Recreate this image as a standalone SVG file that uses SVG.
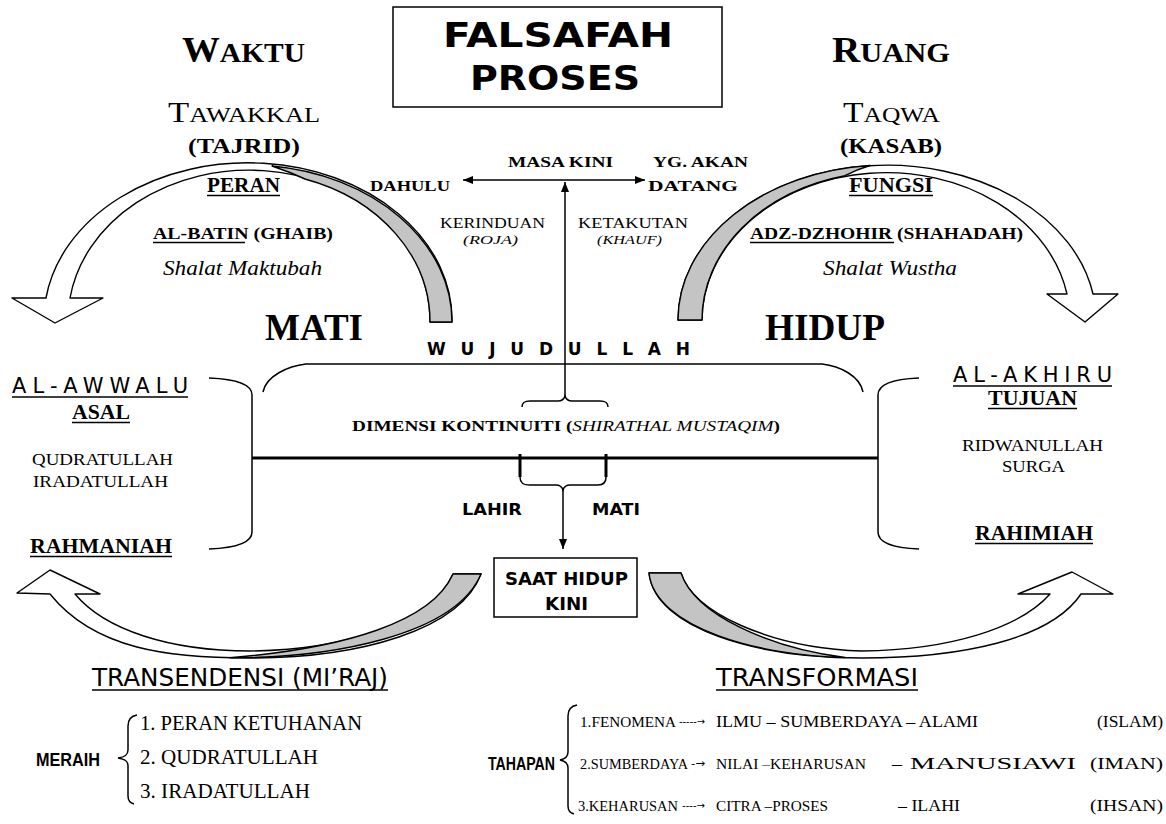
<svg xmlns="http://www.w3.org/2000/svg" width="1166" height="824" viewBox="0 0 1166 824">
  <style>
    text { fill: #000; }
    .s  { font-family: "Liberation Serif", serif; }
    .sb { font-family: "Liberation Serif", serif; font-weight: bold; }
    .si { font-family: "Liberation Serif", serif; font-style: italic; }
    .d  { font-family: "DejaVu Sans", sans-serif; }
    .db { font-family: "DejaVu Sans", sans-serif; font-weight: bold; }
    .lb { font-family: "Liberation Sans", sans-serif; font-weight: bold; }
    .ln { fill: none; stroke: #000; stroke-width: 1.5; }
    .thick { fill: none; stroke: #000; stroke-width: 3; }
    .ul { stroke: #000; stroke-width: 1.5; }
    .band { fill: #fff; stroke: #000; stroke-width: 1.4; stroke-linejoin: round; }
    .shade { fill: #c4c4c4; stroke: #000; stroke-width: 1.4; stroke-linejoin: round; }
    .box { fill: #fff; stroke: #000; stroke-width: 1.5; }
  </style>
  <defs>
    <marker id="head" viewBox="0 0 10 8" refX="10" refY="4" markerWidth="10" markerHeight="8" markerUnits="userSpaceOnUse" orient="auto-start-reverse">
      <path d="M0,0 L10,4 L0,8 Z" fill="#000"/>
    </marker>
  </defs>
  <rect width="1166" height="824" fill="#fff"/>

  <!-- curved 3D arrows -->
  <g id="arrow-waktu">
    <path class="band" d="M12,298 L55,323 L103,298 L70,298 A181,150 0 0 1 430,322 L452,322 A204,157 0 0 0 46,298 Z"/>
    <path class="shade" d="M272,166 A204,157 0 0 1 452,322 L430,322 A181,150 0 0 0 305,179 Q290,172 272,166 Z"/>
  </g>
  <g id="arrow-ruang">
    <path class="band" d="M678,320 A209,155 0 0 1 1093,294 L1118,294 L1085,322 L1047,294 L1067,294 A184,148 0 0 0 702,320 Z"/>
    <path class="shade" d="M678,320 A209,155 0 0 1 870,165.5 Q858,169 845,175.7 A184,148 0 0 0 702,320 Z"/>
  </g>
  <g id="arrow-transendensi">
    <path class="band" d="M17,593 L50,570 L100,594 L75,594 C105,630 170,651 250,651 C340,650 430,625 453,574 L481,574 C460,630 360,658 250,658 C170,658 95,650 50,594 Z"/>
    <path class="shade" d="M230,657.8 C330,658 455,636 481,574 L453,574 C432,622 345,648 230,657.8 Z"/>
  </g>
  <g id="arrow-transformasi">
    <path class="band" d="M649,573 L681,573 C692,612 770,648 862,651 C950,650 1020,628 1050,594 L1018,594 L1072,572 L1113,594 L1081,594 C1050,640 960,658 862,658 C760,658 655,630 649,573 Z"/>
    <path class="shade" d="M649,573 L681,573 C695,615 770,648 845,657.5 C760,656 655,628 649,573 Z"/>
  </g>

  <!-- brackets, timeline and arrows -->
  <g id="connectors">
    <line class="ln" x1="565" y1="180" x2="463" y2="180" marker-end="url(#head)"/>
    <line class="ln" x1="565" y1="180" x2="645" y2="180" marker-end="url(#head)"/>
    <line class="ln" x1="565" y1="397" x2="565" y2="182" marker-end="url(#head)"/>
    <path class="ln" d="M263,392 C266,376 288,366 306,364 L822,364 C840,366 860,376 863,392"/>
    <path class="ln" d="M522,407 C522,402 525,401 530,401 L558,401 C562,401 564,399 565,396 C566,399 568,401 572,401 L600,401 C605,401 608,402 608,407"/>
    <path class="ln" d="M209,378 C235,379 252,384 252,395 L252,532 C252,543 235,548 209,549"/>
    <path class="ln" d="M919,378 C893,379 878,384 878,395 L878,532 C878,543 893,548 919,549"/>
    <line class="thick" x1="252" y1="458" x2="878" y2="458"/>
    <line class="thick" x1="520" y1="454" x2="520" y2="477"/>
    <line class="thick" x1="606" y1="454" x2="606" y2="477"/>
    <path class="ln" d="M520,477 C520,483 523,485 530,485 L556,485 C560,485 562,487 563,490 C564,487 566,485 570,485 L598,485 C603,485 606,483 606,477"/>
    <line class="ln" x1="563" y1="490" x2="563" y2="549" marker-end="url(#head)"/>
    <path class="ln" d="M137,715 C131,716 128,719 128,726 L128,750 C128,755 125,757 118,758 C125,759 128,761 128,766 L128,796 C128,801 130,803 134,804"/>
    <path class="ln" d="M577,705 C571,706 568,709 568,716 L568,752 C568,757 565,759 560,760 C565,761 568,763 568,768 L568,806 C568,811 570,813 574,814"/>
  </g>

  <g id="title">
    <rect class="box" x="393" y="7" width="329" height="100"/>
    <text class="db" x="443" y="47" font-size="34" textLength="230" lengthAdjust="spacingAndGlyphs">FALSAFAH</text>
    <text class="db" x="470" y="90" font-size="34" textLength="170" lengthAdjust="spacingAndGlyphs">PROSES</text>
  </g>

  <g id="waktu">
    <text class="sb" x="182" y="62" textLength="123" lengthAdjust="spacingAndGlyphs"><tspan font-size="36">W</tspan><tspan font-size="28">AKTU</tspan></text>
    <text class="s" x="168" y="122" textLength="152" lengthAdjust="spacingAndGlyphs"><tspan font-size="29">T</tspan><tspan font-size="22">AWAKKAL</tspan></text>
    <text class="sb" x="188" y="153" font-size="22" textLength="112" lengthAdjust="spacingAndGlyphs">(TAJRID)</text>
    <text class="sb" x="207" y="192" font-size="20" textLength="73" lengthAdjust="spacingAndGlyphs">PERAN</text>
    <line class="ul" x1="207" y1="195.5" x2="280" y2="195.5"/>
    <text class="sb" x="153" y="239" font-size="17" textLength="180" lengthAdjust="spacingAndGlyphs">AL-BATIN  (GHAIB)</text>
    <line class="ul" x1="153" y1="242.5" x2="245" y2="242.5"/>
    <text class="si" x="163" y="275" font-size="20" textLength="159" lengthAdjust="spacingAndGlyphs">Shalat Maktubah</text>
  </g>

  <g id="ruang">
    <text class="sb" x="832" y="62" textLength="118" lengthAdjust="spacingAndGlyphs"><tspan font-size="36">R</tspan><tspan font-size="28">UANG</tspan></text>
    <text class="s" x="843" y="122" textLength="97" lengthAdjust="spacingAndGlyphs"><tspan font-size="29">T</tspan><tspan font-size="22">AQWA</tspan></text>
    <text class="sb" x="840" y="153" font-size="22" textLength="102" lengthAdjust="spacingAndGlyphs">(KASAB)</text>
    <text class="sb" x="849" y="192" font-size="20" textLength="84" lengthAdjust="spacingAndGlyphs">FUNGSI</text>
    <line class="ul" x1="849" y1="195.5" x2="933" y2="195.5"/>
    <text class="sb" x="750" y="239" font-size="17" textLength="273" lengthAdjust="spacingAndGlyphs">ADZ-DZHOHIR (SHAHADAH)</text>
    <line class="ul" x1="750" y1="242.5" x2="894" y2="242.5"/>
    <text class="si" x="823" y="275" font-size="20" textLength="134" lengthAdjust="spacingAndGlyphs">Shalat Wustha</text>
  </g>

  <g id="masa">
    <text class="sb" x="370" y="191" font-size="15" textLength="80" lengthAdjust="spacingAndGlyphs">DAHULU</text>
    <text class="sb" x="508" y="167" font-size="15" textLength="105" lengthAdjust="spacingAndGlyphs">MASA KINI</text>
    <text class="sb" x="653" y="167" font-size="15" textLength="95" lengthAdjust="spacingAndGlyphs">YG. AKAN</text>
    <text class="sb" x="648" y="191" font-size="15" textLength="90" lengthAdjust="spacingAndGlyphs">DATANG</text>
    <text class="s" x="440" y="228" font-size="15" textLength="105" lengthAdjust="spacingAndGlyphs">KERINDUAN</text>
    <text class="si" x="463" y="244" font-size="13" textLength="55" lengthAdjust="spacingAndGlyphs">(ROJA)</text>
    <text class="s" x="578" y="228" font-size="15" textLength="110" lengthAdjust="spacingAndGlyphs">KETAKUTAN</text>
    <text class="si" x="597" y="244" font-size="13" textLength="65" lengthAdjust="spacingAndGlyphs">(KHAUF)</text>
  </g>

  <g id="mati-hidup">
    <text class="sb" x="265" y="340" font-size="37" textLength="98" lengthAdjust="spacingAndGlyphs">MATI</text>
    <text class="sb" x="765" y="340" font-size="37" textLength="120" lengthAdjust="spacingAndGlyphs">HIDUP</text>
    <text class="db" x="427" y="355" font-size="17" textLength="263" lengthAdjust="spacing">W U J U D U L L A H</text>
  </g>

  <g id="dimensi">
    <text class="sb" x="352" y="431" font-size="15" textLength="428" lengthAdjust="spacingAndGlyphs">DIMENSI KONTINUITI (<tspan class="si" font-weight="normal">SHIRATHAL MUSTAQIM</tspan>)</text>
    <text class="db" x="462" y="515" font-size="16" textLength="60" lengthAdjust="spacingAndGlyphs">LAHIR</text>
    <text class="db" x="592" y="515" font-size="16" textLength="48" lengthAdjust="spacingAndGlyphs">MATI</text>
  </g>

  <g id="saat-hidup">
    <rect class="box" x="494" y="558" width="143" height="59"/>
    <text class="db" x="505" y="585" font-size="18" textLength="123" lengthAdjust="spacingAndGlyphs">SAAT HIDUP</text>
    <text class="db" x="545" y="610" font-size="18" textLength="43" lengthAdjust="spacingAndGlyphs">KINI</text>
  </g>

  <g id="awal">
    <text class="d" x="12" y="393" font-size="21" textLength="176" lengthAdjust="spacing">AL-AWWALU</text>
    <line class="ul" x1="12" y1="397" x2="188" y2="397"/>
    <text class="sb" x="72" y="419" font-size="20" textLength="58" lengthAdjust="spacingAndGlyphs">ASAL</text>
    <line class="ul" x1="72" y1="422.5" x2="130" y2="422.5"/>
    <text class="s" x="32" y="465" font-size="16" textLength="141" lengthAdjust="spacingAndGlyphs">QUDRATULLAH</text>
    <text class="s" x="33" y="487" font-size="16" textLength="135" lengthAdjust="spacingAndGlyphs">IRADATULLAH</text>
    <text class="sb" x="30" y="553" font-size="20" textLength="142" lengthAdjust="spacingAndGlyphs">RAHMANIAH</text>
    <line class="ul" x1="30" y1="556.5" x2="172" y2="556.5"/>
  </g>

  <g id="akhir">
    <text class="d" x="953" y="382" font-size="21" textLength="159" lengthAdjust="spacing">AL-AKHIRU</text>
    <line class="ul" x1="953" y1="386" x2="1112" y2="386"/>
    <text class="sb" x="988" y="405" font-size="20" textLength="89" lengthAdjust="spacingAndGlyphs">TUJUAN</text>
    <line class="ul" x1="988" y1="408.5" x2="1077" y2="408.5"/>
    <text class="s" x="962" y="451" font-size="16" textLength="141" lengthAdjust="spacingAndGlyphs">RIDWANULLAH</text>
    <text class="s" x="1002" y="472" font-size="16" textLength="63" lengthAdjust="spacingAndGlyphs">SURGA</text>
    <text class="sb" x="975" y="540" font-size="20" textLength="118" lengthAdjust="spacingAndGlyphs">RAHIMIAH</text>
    <line class="ul" x1="975" y1="543.5" x2="1093" y2="543.5"/>
  </g>

  <g id="transendensi">
    <text class="d" x="92" y="686" font-size="24" textLength="296" lengthAdjust="spacingAndGlyphs">TRANSENDENSI (MI’RAJ)</text>
    <line class="ul" x1="92" y1="690" x2="388" y2="690"/>
    <text class="lb" x="36" y="766" font-size="18" textLength="64" lengthAdjust="spacingAndGlyphs">MERAIH</text>
    <text class="s" x="140" y="730" font-size="22" textLength="222" lengthAdjust="spacingAndGlyphs">1. PERAN KETUHANAN</text>
    <text class="s" x="140" y="764" font-size="22" textLength="178" lengthAdjust="spacingAndGlyphs">2. QUDRATULLAH</text>
    <text class="s" x="140" y="798" font-size="22" textLength="170" lengthAdjust="spacingAndGlyphs">3. IRADATULLAH</text>
  </g>

  <g id="transformasi">
    <text class="d" x="716" y="686" font-size="24" textLength="202" lengthAdjust="spacingAndGlyphs">TRANSFORMASI</text>
    <line class="ul" x1="716" y1="690" x2="918" y2="690"/>
    <text class="lb" x="488" y="770" font-size="18" textLength="67" lengthAdjust="spacingAndGlyphs">TAHAPAN</text>
    <!-- stage 1 -->
    <text class="s" x="580" y="727" font-size="15" textLength="96" lengthAdjust="spacingAndGlyphs">1.FENOMENA</text>
    <text class="d" x="679" y="725" font-size="10" textLength="26" lengthAdjust="spacingAndGlyphs">-----→</text>
    <text class="s" x="716" y="727" font-size="17" textLength="262" lengthAdjust="spacingAndGlyphs">ILMU – SUMBERDAYA – ALAMI</text>
    <text class="s" x="1097" y="727" font-size="17" textLength="66" lengthAdjust="spacingAndGlyphs">(ISLAM)</text>
    <!-- stage 2 -->
    <text class="s" x="580" y="769" font-size="14" textLength="108" lengthAdjust="spacingAndGlyphs">2.SUMBERDAYA</text>
    <text class="d" x="691" y="767" font-size="11" textLength="14" lengthAdjust="spacingAndGlyphs">-→</text>
    <text class="s" x="716" y="769" font-size="15.5" textLength="150" lengthAdjust="spacingAndGlyphs">NILAI –KEHARUSAN</text>
    <text class="s" x="892" y="769" font-size="17" textLength="10" lengthAdjust="spacingAndGlyphs">–</text>
    <text class="s" x="910" y="769" font-size="17" textLength="166" lengthAdjust="spacingAndGlyphs">MANUSIAWI</text>
    <text class="s" x="1090" y="769" font-size="17" textLength="73" lengthAdjust="spacingAndGlyphs">(IMAN)</text>
    <!-- stage 3 -->
    <text class="s" x="578" y="811" font-size="14.5" textLength="100" lengthAdjust="spacingAndGlyphs">3.KEHARUSAN</text>
    <text class="d" x="682" y="809" font-size="10" textLength="23" lengthAdjust="spacingAndGlyphs">----→</text>
    <text class="s" x="716" y="811" font-size="15" textLength="112" lengthAdjust="spacingAndGlyphs">CITRA –PROSES</text>
    <text class="s" x="898" y="811" font-size="17" textLength="62" lengthAdjust="spacingAndGlyphs">– ILAHI</text>
    <text class="s" x="1090" y="811" font-size="17" textLength="73" lengthAdjust="spacingAndGlyphs">(IHSAN)</text>
  </g>
</svg>
